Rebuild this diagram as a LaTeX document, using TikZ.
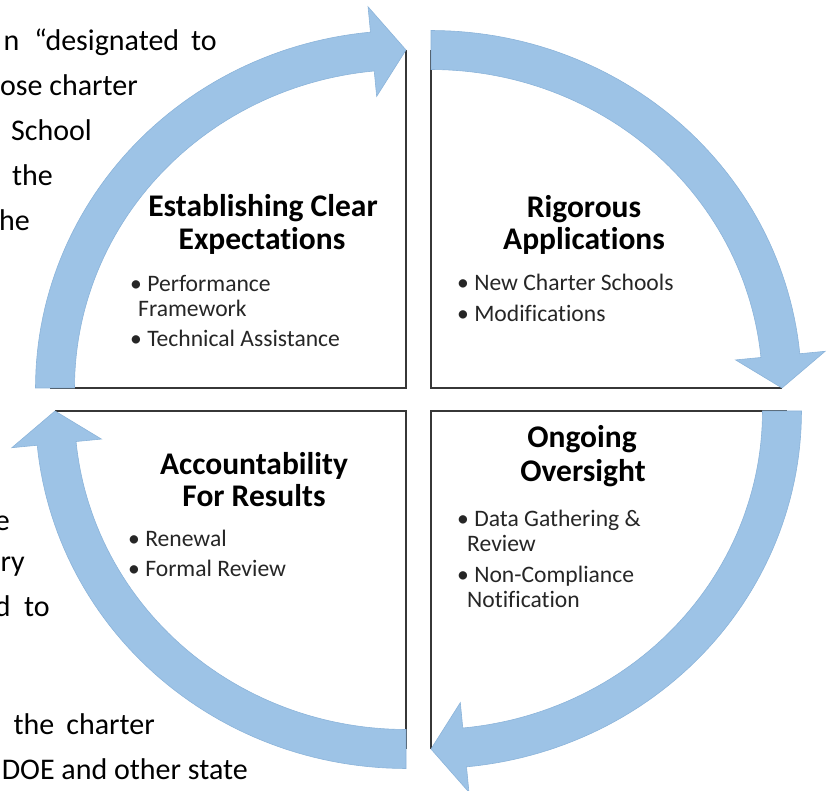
\documentclass[tikz,border=0pt]{standalone}
\usepackage{fontspec}
\setmainfont{Carlito}[Ligatures=NoCommon]
\definecolor{arrowblue}{RGB}{157,195,230}
\definecolor{arrowedge}{RGB}{140,180,218}
\definecolor{boxline}{RGB}{55,55,55}
\definecolor{bullettext}{RGB}{38,38,38}
\def\qRX{351}
\def\qRY{338}
\def\qW{19.5}
\def\qHW{45}
\newcommand{\qarrow}[3]{%
  \pgfmathsetmacro{\tA}{#3}%
  \pgfmathsetmacro{\tH}{#3+84.5}%
  \pgfmathsetmacro{\tE}{#3+90}%
  \path[arrowfill] plot[domain=\tA:\tH,samples=60] ({#1+(\qRX+\qW)*cos(\x)},{#2+(\qRY+\qW)*sin(\x)})
    -- ({#1+(\qRX+\qHW)*cos(\tH)},{#2+(\qRY+\qHW)*sin(\tH)})
    -- ({#1+\qRX*cos(\tE)},{#2+\qRY*sin(\tE)})
    -- ({#1+(\qRX-\qHW)*cos(\tH)},{#2+(\qRY-\qHW)*sin(\tH)})
    -- plot[domain=\tH:\tA,samples=60] ({#1+(\qRX-\qW)*cos(\x)},{#2+(\qRY-\qW)*sin(\x)})
    -- cycle;%
}
\begin{document}
\begin{tikzpicture}[x=1pt,y=-1pt,
  bgtext/.style={anchor=base east, inner sep=0pt, font=\fontsize{30}{36}\selectfont, text=black},
  headtext/.style={anchor=base, inner sep=0pt, font=\fontsize{31.5}{36}\selectfont\bfseries, text=black},
  itemtext/.style={anchor=base west, inner sep=0pt, font=\fontsize{23.6}{28}\selectfont, text=bullettext},
  edgeline/.style={draw=boxline, line width=2.2pt},
  arrowfill/.style={fill=arrowblue, draw=arrowedge, line width=0.6pt, line join=miter}]
\useasboundingbox (0,0) rectangle (831,791);
\begin{scope}
\clip (0,0) rectangle (831,791);
% background document text
\node[bgtext] (bg1) at (217,51) {n\hspace{0.5em}“designated\hspace{0.4em}to};
\node[bgtext] (bg2) at (138,96) {ose charter};
\node[bgtext] (bg3) at (92,141) {School};
\node[bgtext] (bg4) at (53,186) {the};
\node[bgtext] (bg5) at (30,231) {he};
\node[bgtext] (bg6) at (10,531) {e};
\node[bgtext] (bg7) at (25,572) {ry};
\node[bgtext] (bg8) at (50,617) {d\hspace{0.45em}to};
\node[bgtext] (bg9) at (155,734) {the\hspace{0.4em}charter};
\node[bgtext] (bg10) at (248,779) {DOE and other state};
\end{scope}
% quadrant corners
\coordinate (cTL) at (406,388);
\coordinate (cTR) at (431,388);
\coordinate (cBR) at (431,411);
\coordinate (cBL) at (406,411);
\coordinate (eTLv) at (406,50);
\coordinate (eTLh) at (50,388);
\coordinate (eTRv) at (431,50);
\coordinate (eTRh) at (782,388);
\coordinate (eBRh) at (787,411);
\coordinate (eBRv) at (431,749);
\coordinate (eBLh) at (55,411);
\coordinate (eBLv) at (406,749);
% quadrant edges
\draw[edgeline] (eTLv) -- (cTL) -- (eTLh);
\draw[edgeline] (eTRv) -- (cTR) -- (eTRh);
\draw[edgeline] (eBRh) -- (cBR) -- (eBRv);
\draw[edgeline] (eBLh) -- (cBL) -- (eBLv);
% cycle arrows
\qarrow{406}{388}{180}
\qarrow{431}{388}{270}
\qarrow{431}{411}{0}
\qarrow{406}{411}{90}
% Establishing Clear Expectations
\node[headtext] (h1a) at (263,217) {Establishing Clear};
\node[headtext] (h1b) at (262,250) {Expectations};
\node[itemtext] (i1a) at (130,292) {• Performance};
\node[itemtext] (i1b) at (138,317) {Framework};
\node[itemtext] (i1c) at (130,347) {• Technical Assistance};
% Rigorous Applications
\node[headtext] (h2a) at (584,218) {Rigorous};
\node[headtext] (h2b) at (584,250) {Applications};
\node[itemtext] (i2a) at (457,291) {• New Charter Schools};
\node[itemtext] (i2b) at (457,322) {• Modifications};
% Ongoing Oversight
\node[headtext] (h3a) at (582,448) {Ongoing};
\node[headtext] (h3b) at (583,482) {Oversight};
\node[itemtext] (i3a) at (457,527) {• Data Gathering \&};
\node[itemtext] (i3b) at (467,552) {Review};
\node[itemtext] (i3c) at (457,583) {• Non-Compliance};
\node[itemtext] (i3d) at (467,608) {Notification};
% Accountability For Results
\node[headtext] (h4a) at (254,475) {Accountability};
\node[headtext] (h4b) at (254,507) {For Results};
\node[itemtext] (i4a) at (128,547) {• Renewal};
\node[itemtext] (i4b) at (128,577) {• Formal Review};
\end{tikzpicture}
\end{document}
